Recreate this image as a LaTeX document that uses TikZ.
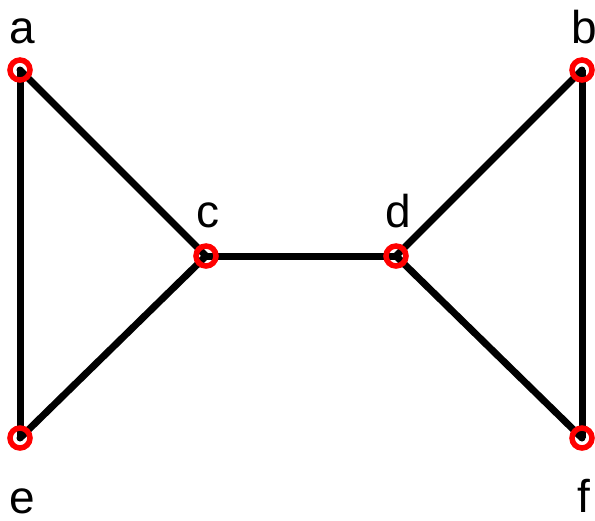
\documentclass[tikz,border=0pt]{standalone}
\usepackage{fontspec}
\setmainfont{Liberation Sans}
\begin{document}
\begin{tikzpicture}[x=1pt, y=-1pt,
    vert/.style={circle, draw=red, line width=5.5pt, minimum size=20pt, inner sep=0pt},
    lab/.style={anchor=base, inner sep=0pt, font=\fontsize{46}{50}\selectfont},
    edge/.style={line width=7pt}]
  \useasboundingbox (0,0) rectangle (595,520);
  % vertices: name/x/y/label y (baseline)
  \foreach \n/\x/\y/\ly in {a/20/70/43, b/582/70/43, c/206/256/227,
      d/396/256/227, e/20/438/513, f/582/438/512} {
    \coordinate (\n) at (\x,\y);
    \node[lab] (l\n) at (\x+2,\ly) {\n};
  }
  \foreach \u/\v in {a/c, a/e, c/e, c/d, d/b, d/f, b/f}
    \draw[edge] (\u) -- (\v);
  \foreach \n in {a,b,c,d,e,f} {
    \node[vert] (v\n) at (\n) {};
    \fill (\n) circle (3.5pt);
  }
\end{tikzpicture}
\end{document}
